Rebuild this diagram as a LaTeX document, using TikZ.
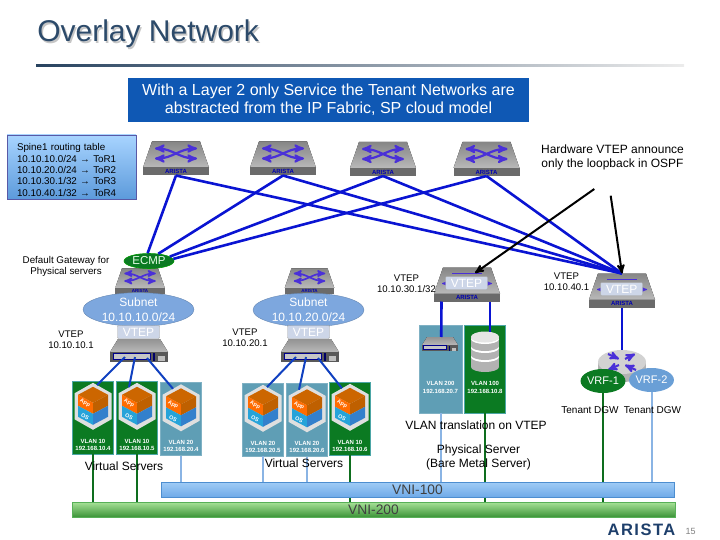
\documentclass[tikz,border=0pt]{standalone}
\usepackage{fontspec}
\setmainfont{Liberation Sans}
\usetikzlibrary{arrows,calc,positioning,shapes}
\definecolor{titleblue}{HTML}{2C4A6A}
\definecolor{boxblue}{HTML}{0F58B4}
\definecolor{linkblue}{HTML}{0A14D2}
\definecolor{srvblue}{HTML}{1040C0}
\definecolor{iconblue}{HTML}{4A30D8}
\definecolor{tilegreen}{HTML}{0B7A22}
\definecolor{tileteal}{HTML}{5F9EB5}
\definecolor{vlangreen}{HTML}{0E6E1E}
\definecolor{vlanblue}{HTML}{8AB4E4}
\definecolor{cloud}{HTML}{7DA7DE}
\definecolor{logoblue}{HTML}{1E3F6B}
\definecolor{vtepfill}{HTML}{CDD6E8}
\definecolor{tabletop}{HTML}{A8D4FF}
\definecolor{tablebot}{HTML}{5C9ADB}
\definecolor{vrfblue}{HTML}{6A9FD6}
\definecolor{gbartop}{HTML}{A8E298}
\definecolor{gbarbot}{HTML}{3C9438}
\definecolor{gbarline}{HTML}{58B058}
\definecolor{bbartop}{HTML}{A0CCF6}
\definecolor{bbarbot}{HTML}{6FAAE8}
\definecolor{bbarline}{HTML}{4D8ED0}
\tikzset{
    slide/.style={x=1pt,y=-1pt,>=stealth',semithick},
    txt/.style={inner sep=0pt,align=center,font=\fontsize{#1}{#1}\selectfont\setlength{\baselineskip}{1.17em}},
    uplink/.style={linkblue,line width=2.6pt},
    srvlink/.style={srvblue,line width=2pt},
    greenlink/.style={vlangreen,line width=2pt},
    bluelink/.style={vlanblue,line width=2pt},
    callout/.style={->,black,line width=2pt},
    ecmpoval/.style={ellipse,draw=green!60!black,fill=tilegreen,text=green!10,inner sep=0pt,
                     minimum width=50pt,minimum height=15pt,font=\fontsize{11.5}{13}\selectfont},
    subnet/.style={ellipse,fill=cloud,draw=cloud!80!black,thin,text=white,inner sep=0pt,align=center,
                     minimum width=111pt,minimum height=31pt,font=\fontsize{12}{15}\selectfont},
    vtep/.style={draw=gray!70,thin,fill=vtepfill,text=white,rounded corners=1pt,inner sep=0pt,
                     minimum width=42pt,minimum height=13pt,font=\fontsize{12}{14}\selectfont},
    gtile/.style={draw=teal!70!white,thin,fill=tilegreen,minimum width=41pt,minimum height=73pt,inner sep=0pt},
    ttile/.style={draw=tileteal!80!white,thin,fill=tileteal,minimum width=41pt,minimum height=73pt,inner sep=0pt},
    tiletext/.style={text=white,inner sep=0pt,align=center,font=\bfseries\fontsize{6}{7.2}\selectfont},
    vni/.style={draw=#1,thin,inner sep=0pt,font=\fontsize{13.8}{15}\selectfont,text=black!75},
    vrf/.style={ellipse,text=white,inner sep=0pt,minimum width=41pt,minimum height=24pt,
                     font=\fontsize{11}{13}\selectfont},
    spine/.pic={
        \fill[top color=gray!95,bottom color=gray!55] (-24,-17) -- (24,-17) -- (33,9) -- (-33,9) -- cycle;
        \fill[black!58] (-33,9) rectangle (33,17);
        \node[text=blue!70!black,inner sep=0pt,font=\bfseries\fontsize{6}{6}\selectfont] (-logo) at (0,13) {ARISTA};
        \draw[iconblue,line width=2.2pt,<->] (-21,-10) .. controls (-4,-10) and (4,0) .. (21,0);
        \draw[iconblue,line width=2.2pt,<->] (-21,0) .. controls (-4,0) and (4,-10) .. (21,-10);
        \coordinate (-port) at (0,17);
    },
    leaf/.pic={
        \fill[top color=gray!95,bottom color=gray!55] (-24,-17) -- (24,-17) -- (33,9) -- (-33,9) -- cycle;
        \fill[black!58] (-33,9) rectangle (33,17);
        \node[text=blue!70!black,inner sep=0pt,font=\bfseries\fontsize{6}{6}\selectfont] (-logo) at (0,13) {ARISTA};
        \draw[iconblue,line width=1.8pt] (-15,-11) -- (15,-11);
        \draw[iconblue,line width=1.2pt,<->] (-25,-1) -- (25,-1);
        \coordinate (-port) at (0,17);
        \coordinate (-left) at (-25.5,17);
        \coordinate (-right) at (23,17);
        \coordinate (-in) at (0,-17);
        \coordinate (-hit) at (8,-11.5);
    },
    tor/.pic={
        \fill[top color=gray!95,bottom color=gray!55] (-24,-17) -- (24,-17) -- (33,9) -- (-33,9) -- cycle;
        \fill[black!58] (-33,9) rectangle (33,17);
        \node[text=blue!70!black,inner sep=0pt,font=\bfseries\fontsize{4.5}{5}\selectfont] (-logo) at (0,13) {ARISTA};
        \draw[iconblue,line width=1.7pt,<->] (-21,-10) .. controls (-4,-10) and (4,0) .. (21,0);
        \draw[iconblue,line width=1.7pt,<->] (-21,0) .. controls (-4,0) and (4,-10) .. (21,-10);
        \coordinate (-in) at (0,-17);
    },
    server/.pic={
        \fill[top color=gray!85,bottom color=gray!55] (-21,0) -- (21,0) -- (29,13) -- (-29,13) -- cycle;
        \fill[black!65] (-29,13) rectangle (29,23);
        \draw[blue!55!black,fill=gray!45,line width=.9pt] (-26,14) rectangle (11,20);
        \fill[blue!40!black] (14,14) rectangle (15.5,22);
        \fill[gray!50] (19,17) rectangle (26,22);
        \coordinate (-p1) at (-14,18);
        \coordinate (-p2) at (-4,18);
        \coordinate (-p3) at (8,19);
        \coordinate (-in) at (2,0);
    },
    cube/.pic={
        \fill[gray!25] (0,2) -- (18.5,12.5) -- (18.5,38.5) -- (0,49) -- (-18.5,38.5) -- (-18.5,12.5) -- cycle;
        \fill[orange!80!black] (0,6) -- (15,14) -- (0,22) -- (-15,14) -- cycle;
        \fill[orange!85!red] (-15,14) -- (0,22) -- (0,33) -- (-15,25) -- cycle;
        \fill[orange!75!black] (15,14) -- (0,22) -- (0,33) -- (15,25) -- cycle;
        \fill[blue!30!cyan!70!gray] (-15,25) -- (0,33) -- (0,44) -- (-15,36) -- cycle;
        \fill[blue!50!cyan!60!gray] (15,25) -- (0,33) -- (0,44) -- (15,36) -- cycle;
        \node[text=white,inner sep=0pt,rotate=-28,font=\bfseries\fontsize{5.5}{6}\selectfont] (-app) at (-8,22.5) {App};
        \node[text=white,inner sep=0pt,rotate=-28,font=\bfseries\fontsize{5.5}{6}\selectfont] (-os) at (-8,36) {OS};
        \coordinate (-nw) at (-8,6.5);
        \coordinate (-ne) at (4,4.3);
    },
    diskstack/.pic={
        \fill[gray!60] (-14,5) rectangle (14,36);
        \fill[gray!60] (0,36) ellipse [x radius=14,y radius=5];
        \foreach \k in {26,17,8} {
            \fill[white] (0,\k) ellipse [x radius=14,y radius=5];
            \fill[gray!60] (0,\k-2) ellipse [x radius=14,y radius=5];
        }
        \fill[gray!20] (0,6) ellipse [x radius=14,y radius=5.5];
        \coordinate (-in) at (5,1);
    },
    router/.pic={
        \fill[gray!60] (-24,12) rectangle (24,22);
        \fill[gray!60] (0,22) ellipse [x radius=24,y radius=10];
        \fill[gray!35] (0,12) ellipse [x radius=24,y radius=12];
        \draw[iconblue,line width=2.1pt,->] (-14,4) -- (-3,9);
        \draw[iconblue,line width=2.1pt,->] (3,9) -- (13,4);
        \draw[iconblue,line width=2.1pt,->] (-3,15) -- (-14,20);
        \draw[iconblue,line width=2.1pt,->] (14,20) -- (3,15);
        \coordinate (-in) at (0,0);
    },
}
\begin{document}
\begin{tikzpicture}[slide]
    \useasboundingbox (0,0) rectangle (720,540);

    % title
    \node[txt=30,anchor=west,text=gray!45] (shadow) at (38.5,35.5) {Overlay Network};
    \node[txt=30,anchor=west,text=titleblue] (title) at (37,34) {Overlay Network};
    \fill[left color=titleblue!90!black,right color=gray!15] (36,65) rectangle (684,67);

    \node[fill=boxblue,text=white,minimum width=401pt,minimum height=44pt,inner sep=0pt,align=center,
          font=\fontsize{16}{18}\selectfont] (intro) at (328.5,100)
          {With a Layer 2 only Service the Tenant Networks are\\abstracted from the IP Fabric, SP cloud model};
    \node[draw=blue!30!gray,thin,top color=tabletop,bottom color=tablebot,minimum width=129pt,minimum height=64pt,
          inner ysep=0pt,inner xsep=10pt,text width=109pt,align=left,font=\fontsize{9.8}{11.4}\selectfont] (rtable) at (71.5,167)
          {\rule{0pt}{13pt}Spine1 routing table\\10.10.10.0/24 → ToR1\\10.10.20.0/24 → ToR2\\10.10.30.1/32 → ToR3\\10.10.40.1/32 → ToR4};
    \node[txt=12] (hwnote) at (612.5,157.5) {Hardware VTEP announce\\only the loopback in OSPF};

    % spine switches
    \pic (s1) at (176,158.5) {spine};
    \pic (s2) at (283,158.5) {spine};
    \pic (s3) at (383,159) {spine};
    \pic (s4) at (486.5,159) {spine};

    % ToR switches
    \pic[scale=.75] (l1) at (140,281) {tor};
    \pic[scale=.75] (l2) at (309.5,281) {tor};
    \pic (l3) at (467,284.5) {leaf};
    \pic (l4) at (622,290.5) {leaf};

    \node[ecmpoval] (ecmp) at (149,261) {ECMP};

    \path (s1-port) edge[uplink] (ecmp.100);
    \path (s2-port) edge[uplink] (ecmp.38);
    \path (s3-port) edge[uplink] (ecmp.12);
    \path (s4-port) edge[uplink] (ecmp.5);
    \path (s1-port) edge[uplink] (l4-in);
    \path (s2-port) edge[uplink] (l4-in);
    \path (s3-port) edge[uplink] (l4-in);
    \path (s4-port) edge[uplink] (l4-in);

    \node[subnet] (sub1) at (138.5,309.5) {Subnet\\10.10.10.0/24};
    \node[subnet] (sub2) at (308.5,310) {Subnet\\10.10.20.0/24};
    \node[vtep] (v1) at (138.5,332) {VTEP};
    \node[vtep] (v2) at (308.5,332) {VTEP};
    \node[vtep] (v3) at (466.5,283) {VTEP};
    \node[vtep] (v4) at (621.7,289) {VTEP};

    \pic (srv1) at (139,339) {server};
    \pic (srv2) at (310,339) {server};

    \node[txt=9.6] (lb1) at (71,340) {VTEP\\10.10.10.1};
    \node[txt=9.6] (lb2) at (245,338) {VTEP\\10.10.20.1};
    \node[txt=9.6] (lb3) at (406.5,283.5) {VTEP\\10.10.30.1/32};
    \node[txt=9.6] (lb4) at (566.5,281.5) {VTEP\\10.10.40.1};
    \node[txt=9.8] (dgw) at (66,266.5) {Default Gateway for\\Physical servers};

    % tenant tiles
    \node[gtile] (t1) at (93,417.5) {};
    \node[gtile] (t2) at (137,417.5) {};
    \node[ttile] (t3) at (181,419) {};
    \node[ttile] (t4) at (263,419.5) {};
    \node[ttile] (t5) at (307,420) {};
    \node[gtile] (t6) at (350,418.5) {};
    \node[ttile,minimum width=43pt,minimum height=88pt] (t7) at (440.5,369) {};
    \node[gtile,minimum height=88pt] (t8) at (485,369) {};

    \node[tiletext,above=3.5pt of t1.south] (a1) {VLAN 10\\192.168.10.4};
    \node[tiletext,above=3.5pt of t2.south] (a2) {VLAN 10\\192.168.10.5};
    \node[tiletext,above=3.5pt of t3.south] (a3) {VLAN 20\\192.168.20.4};
    \node[tiletext,above=3.5pt of t4.south] (a4) {VLAN 20\\192.168.20.5};
    \node[tiletext,above=3.5pt of t5.south] (a5) {VLAN 20\\192.168.20.6};
    \node[tiletext,above=3.5pt of t6.south] (a6) {VLAN 10\\192.168.10.6};
    \node[tiletext] (a7) at (440.5,387.5) {VLAN 200\\192.168.20.7};
    \node[tiletext] (a8) at (485,387.5) {VLAN 100\\192.168.10.8};

    \pic (c1) at (t1.north) {cube};
    \pic (c2) at (t2.north) {cube};
    \pic (c3) at (t3.north) {cube};
    \pic (c4) at (t4.north) {cube};
    \pic (c5) at (t5.north) {cube};
    \pic (c6) at (t6.north) {cube};

    \path (srv1-p1) edge[srvlink] (c1-ne);
    \path (srv1-p2) edge[srvlink] (c2-nw);
    \path (srv1-p3) edge[srvlink] (c3-nw);
    \path (srv2-p1) edge[srvlink] (c4-ne);
    \path (srv2-p2) edge[srvlink] (c5-nw);
    \path (srv2-p3) edge[srvlink] (c6-nw);

    % physical servers
    \pic[scale=.62] (srv3) at (440,337) {server};
    \pic (db) at (485,331) {diskstack};
    \path (l3-left) edge[uplink] (srv3-in);
    \path (l3-right) edge[uplink] (db-in);

    % router
    \pic (r1) at (622,350) {router};
    \path (l4-port) edge[uplink] (r1-in);
    \node[vrf,fill=tilegreen] (vrf1) at (603,381) {VRF-1};
    \node[vrf,fill=vrfblue] (vrf2) at (651.5,380) {VRF-2};

    % VNI links
    \coordinate (vni100top) at (0,482);
    \coordinate (vni200top) at (0,502);
    \path (t1.south) edge[greenlink] (t1.south |- vni200top);
    \path (t2.south) edge[greenlink] (t2.south |- vni200top);
    \path (t3.south) edge[bluelink] (t3.south |- vni100top);
    \path (t4.south) edge[bluelink] (t4.south |- vni100top);
    \path (t5.south) edge[bluelink] (t5.south |- vni100top);
    \path (t6.south) edge[greenlink] (t6.south |- vni200top);
    \path (t7.south) edge[bluelink] (t7.south |- vni100top);
    \path (t8.south) edge[greenlink] (t8.south |- vni200top);
    \path (vrf1.south) edge[greenlink] (vrf1.south |- vni200top);
    \path (vrf2.south) edge[bluelink] (vrf2.south |- vni100top);

    \node[vni=gbarline,top color=gbartop,bottom color=gbarbot,minimum width=603pt,minimum height=15pt] (vni200) at (373.5,509.5) {VNI-200};
    \node[vni=bbarline,top color=bbartop,bottom color=bbarbot,minimum width=513pt,minimum height=15pt] (vni100) at (417.5,489.5) {VNI-100};

    \node[txt=12] (vs1) at (124,466.5) {Virtual Servers};
    \node[txt=12] (vs2) at (304,463.5) {Virtual Servers};
    \node[txt=12] (xlate) at (476,425.5) {VLAN translation on VTEP};
    \node[txt=12] (phys) at (478.5,457) {Physical Server\\(Bare Metal Server)};
    \node[txt=10] (gw1) at (590,410.5) {Tenant DGW};
    \node[txt=10] (gw2) at (652.5,410.5) {Tenant DGW};

    % hardware VTEP callouts
    \coordinate (nta) at (594.3,189);
    \coordinate (ntb) at (610.7,195.7);
    \path (nta) edge[callout] (l3-hit);
    \path (ntb) edge[callout] (l4-in);

    % footer
    \node[inner sep=0pt,text=logoblue,font=\bfseries\fontsize{16.5}{18}\selectfont\addfontfeature{LetterSpace=9}] (logo) at (641.5,530) {ARISTA};
    \node[txt=9,text=gray] (pageno) at (690.5,531) {15};
\end{tikzpicture}
\end{document}
